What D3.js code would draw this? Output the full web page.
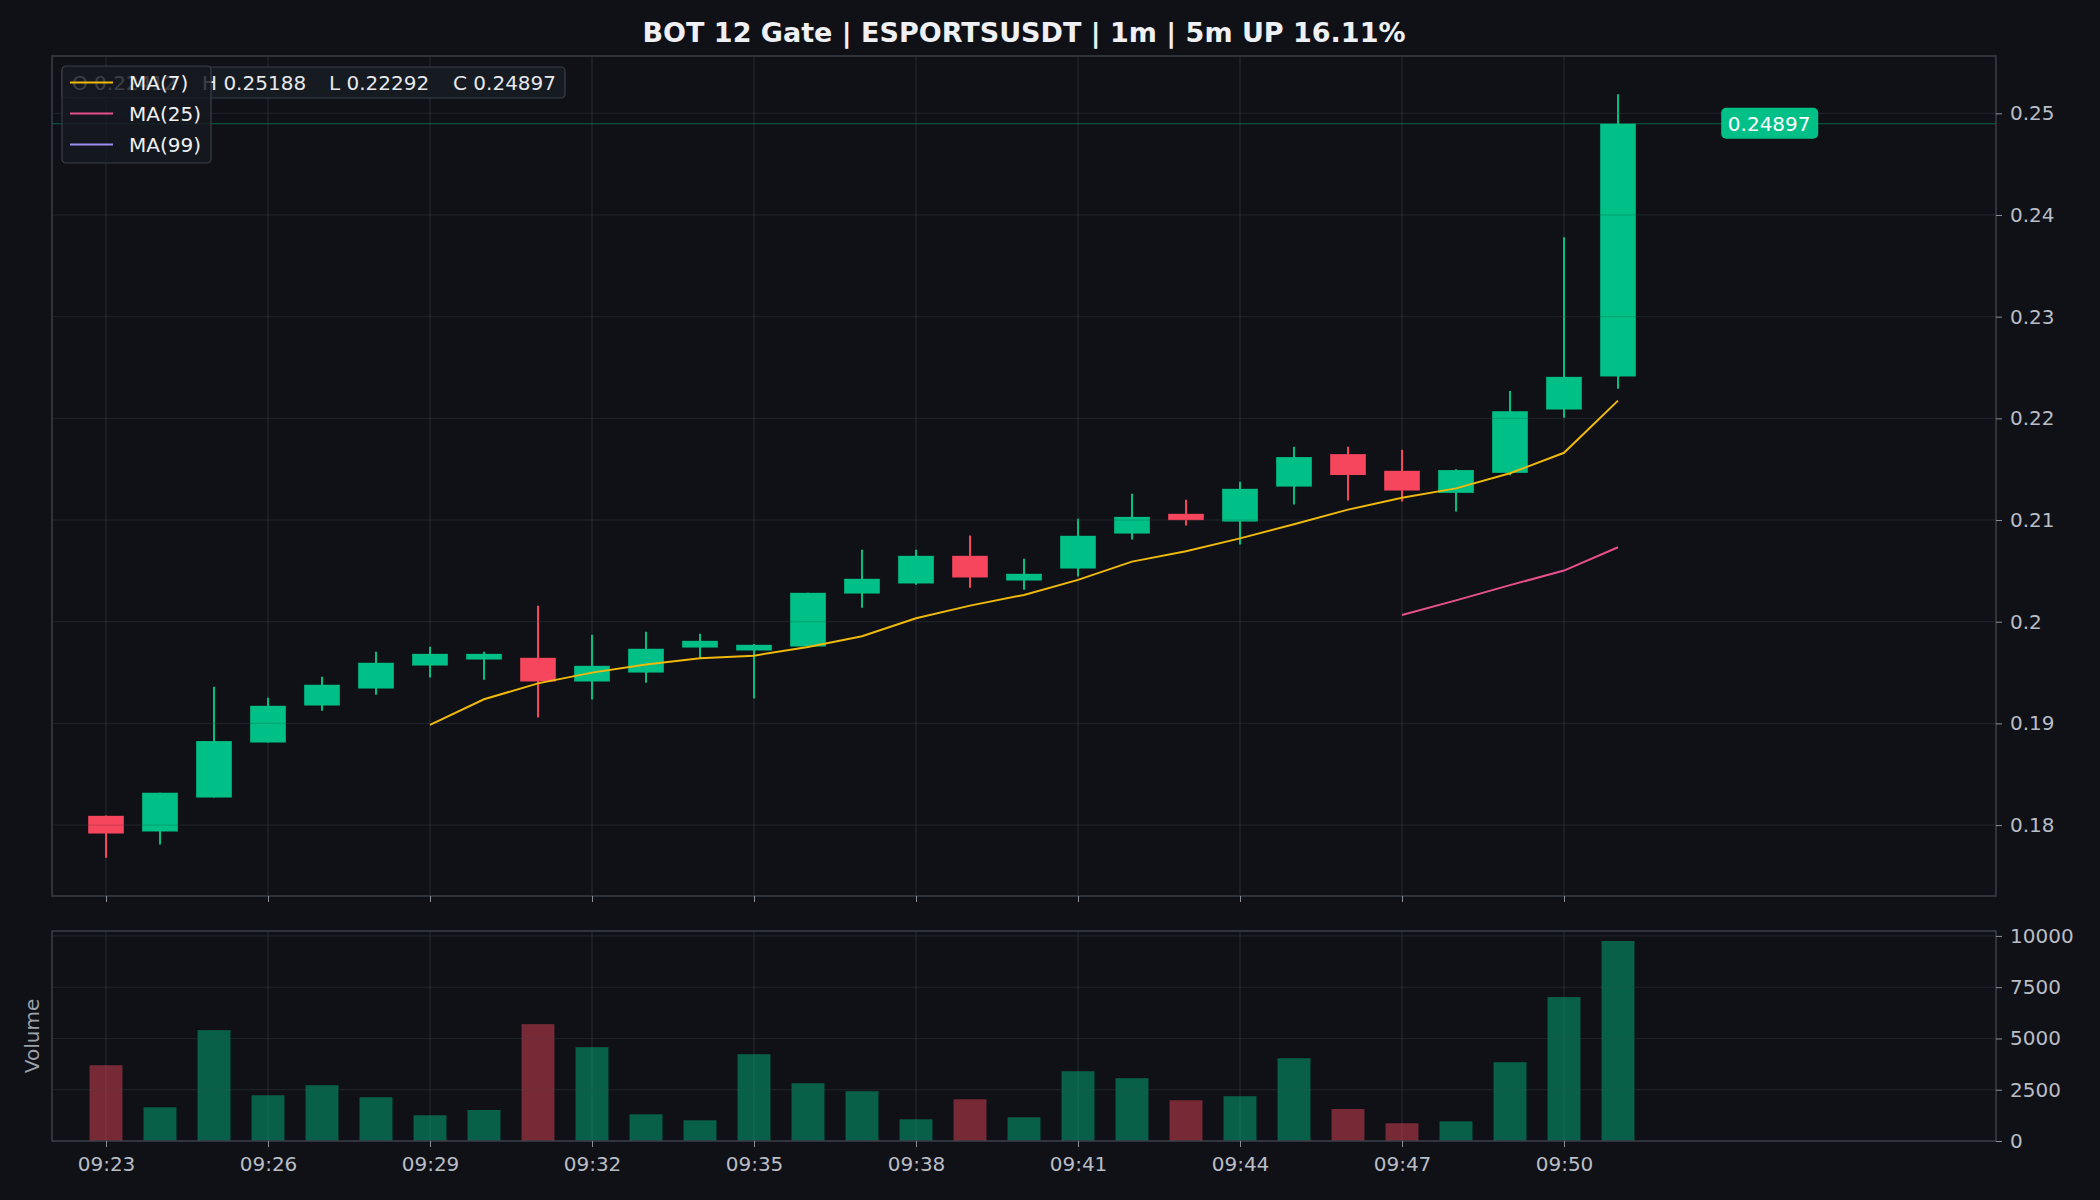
<!DOCTYPE html>
<html>
<head>
<meta charset="utf-8">
<script src="https://cdn.jsdelivr.net/npm/d3@7"></script>
<style>
  html, body { margin: 0; padding: 0; background: #0f1117; }
  svg { display: block; font-family: "DejaVu Sans", sans-serif; }
</style>
</head>
<body>
<script>
// candle data, 1m bars
const times = ["09:23","09:24","09:25","09:26","09:27","09:28","09:29","09:30","09:31","09:32",
  "09:33","09:34","09:35","09:36","09:37","09:38","09:39","09:40","09:41","09:42",
  "09:43","09:44","09:45","09:46","09:47","09:48","09:49","09:50","09:51"]
const open = [0.18091,0.17937,0.18271,0.18812,0.19176,0.19343,0.19569,0.19628,0.19645,0.19412,
  0.19500,0.19746,0.19717,0.19756,0.20277,0.20376,0.20648,0.20405,0.20523,0.20867,
  0.21061,0.20985,0.21329,0.21648,0.21484,0.21267,0.21464,0.22087,0.22412]
const high = [0.18095,0.18318,0.19360,0.19252,0.19458,0.19704,0.19753,0.19704,0.20156,0.19871,
  0.19901,0.19881,0.19782,0.20284,0.20707,0.20707,0.20848,0.20618,0.21012,0.21258,
  0.21199,0.21376,0.21720,0.21720,0.21690,0.21500,0.22268,0.23782,0.25188]
const low = [0.17678,0.17809,0.18271,0.18812,0.19124,0.19281,0.19451,0.19429,0.19058,0.19235,
  0.19399,0.19635,0.19245,0.19756,0.20137,0.20363,0.20333,0.20314,0.20444,0.20808,
  0.20946,0.20759,0.21152,0.21192,0.21182,0.21083,0.21440,0.22005,0.22292]
const close = [0.17917,0.18318,0.18826,0.19173,0.19380,0.19596,0.19684,0.19684,0.19412,0.19566,
  0.19734,0.19812,0.19773,0.20284,0.20422,0.20648,0.20435,0.20471,0.20845,0.21031,
  0.20999,0.21307,0.21619,0.21443,0.21290,0.21491,0.22070,0.22408,0.24897]
const volume = [3695,1644,5405,2230,2719,2133,1254,1514,5698,4575,
  1302,1009,4233,2816,2426,1058,2035,1156,3403,3061,
  1986,2182,4037,1563,863,960,3842,7017,9752]

const priceTicks = [0.18,0.19,0.20,0.21,0.22,0.23,0.24,0.25]
const volTicks = [0,2500,5000,7500,10000]
const xTicks = [0,3,6,9,12,15,18,21,24,27]
const maPeriods = [7,25,99]
const maColors = ["#f0b90b","#e8508c","#9d8df1"]
const title = "BOT 12 Gate | ESPORTSUSDT | 1m | 5m UP 16.11%"

const UP = "#00c087", DOWN = "#f6465d"
const W = 2100, H = 1200
const left = 52, right = 1996
const mainTop = 56, mainBottom = 896
const volTop = 931, volBottom = 1141

const svg = d3.select("body").append("svg").attr("width", W).attr("height", H)
svg.append("rect").attr("width", W).attr("height", H).attr("fill", "#0f1117")

const n = close.length
const bars = d3.range(n).map(i => ({i, t: times[i], o: open[i], h: high[i], l: low[i], c: close[i], v: volume[i]}))

const x = d3.scaleLinear().domain([-1, 35]).range([left, right])
const lo = d3.min(low), hi = d3.max(high), pad = (hi - lo) * 0.05
const y = d3.scaleLinear().domain([lo - pad, hi + pad]).range([mainBottom, mainTop])
const yv = d3.scaleLinear().domain([0, d3.max(volume) * 1.05]).range([volBottom, volTop])

const step = x(1) - x(0)
const gridColor = "rgba(120,126,138,0.22)"
const axisColor = "#8a8f99"
const textColor = "#b9bdc5"

function panel(top, bottom) {
  svg.append("rect").attr("x", left).attr("y", top).attr("width", right - left).attr("height", bottom - top)
    .attr("fill", "#0f1117")
}
panel(mainTop, mainBottom)
panel(volTop, volBottom)

// ---- price panel ----
const gMain = svg.append("g")

// grid
gMain.selectAll("line.hg").data(priceTicks).enter().append("line")
  .attr("x1", left).attr("x2", right).attr("y1", d => y(d)).attr("y2", d => y(d))
  .attr("stroke", gridColor).attr("stroke-width", 1)
gMain.selectAll("line.vg").data(xTicks).enter().append("line")
  .attr("x1", d => x(d)).attr("x2", d => x(d)).attr("y1", mainTop).attr("y2", mainBottom)
  .attr("stroke", gridColor).attr("stroke-width", 1)

// wicks
gMain.selectAll("line.wick").data(bars).enter().append("line")
  .attr("x1", d => x(d.i)).attr("x2", d => x(d.i))
  .attr("y1", d => y(d.h)).attr("y2", d => y(d.l))
  .attr("stroke", d => d.c >= d.o ? UP : DOWN).attr("stroke-width", 2)
// bodies
gMain.selectAll("rect.body").data(bars).enter().append("rect")
  .attr("x", d => x(d.i) - step * 0.33)
  .attr("width", step * 0.66)
  .attr("y", d => y(Math.max(d.o, d.c)))
  .attr("height", d => Math.max(1.5, Math.abs(y(d.o) - y(d.c))))
  .attr("fill", d => d.c >= d.o ? UP : DOWN)
// grid shows faintly over the bodies
gMain.selectAll("line.hg2").data(priceTicks).enter().append("line")
  .attr("x1", left).attr("x2", right).attr("y1", d => y(d)).attr("y2", d => y(d))
  .attr("stroke", "rgba(15,17,23,0.18)").attr("stroke-width", 1)

// moving averages
maPeriods.forEach((p, k) => {
  const pts = []
  for (let i = p - 1; i < n; i++) pts.push([i, d3.mean(close.slice(i - p + 1, i + 1))])
  if (!pts.length) return
  gMain.append("path").datum(pts)
    .attr("d", d3.line().x(d => x(d[0])).y(d => y(d[1])))
    .attr("fill", "none").attr("stroke", maColors[k]).attr("stroke-width", 2)
})

// last price line + label
const last = close[n - 1]
gMain.append("line").attr("x1", left).attr("x2", right).attr("y1", y(last)).attr("y2", y(last))
  .attr("stroke", "rgba(0,192,135,0.45)").attr("stroke-width", 1.2)
const lbl = gMain.append("g").attr("transform", `translate(${x(30.8)},${y(last)})`)
lbl.append("rect").attr("x", -48).attr("y", -16).attr("width", 97).attr("height", 31).attr("rx", 5)
  .attr("fill", UP)
lbl.append("text").attr("text-anchor", "middle").attr("dy", "0.35em")
  .attr("font-size", 20).attr("fill", "#ffffff").text(last.toFixed(5))

// panel borders
svg.append("rect").attr("x", left).attr("y", mainTop).attr("width", right - left).attr("height", mainBottom - mainTop)
  .attr("fill", "none").attr("stroke", "#3a3e47").attr("stroke-width", 1.5)

// right price axis
const ay = svg.append("g").attr("transform", `translate(${right},0)`)
  .call(d3.axisRight(y).tickValues(priceTicks).tickSize(6).tickPadding(8).tickFormat(d => String(+d.toFixed(2))))
ay.select(".domain").remove()
ay.selectAll("line").attr("stroke", axisColor)
ay.selectAll("text").attr("fill", textColor).attr("font-size", 20).attr("font-family", "DejaVu Sans")

// bottom ticks of main panel (no labels)
const axm = svg.append("g").attr("transform", `translate(0,${mainBottom})`)
  .call(d3.axisBottom(x).tickValues(xTicks).tickSize(6).tickFormat(""))
axm.select(".domain").remove()
axm.selectAll("line").attr("stroke", axisColor)

// info box (OHLC of last bar)
const info = svg.append("g").attr("transform", "translate(62,67)")
info.append("rect").attr("width", 503).attr("height", 31).attr("rx", 4)
  .attr("fill", "#161a21").attr("stroke", "#3a3e47").attr("stroke-width", 1.2)
const ohlc = [["O", open[n-1]], ["H", high[n-1]], ["L", low[n-1]], ["C", close[n-1]]]
const ohlcX = [10, 140, 267, 391]
ohlc.forEach((d, k) => {
  info.append("text").attr("x", ohlcX[k]).attr("y", 16).attr("dy", "0.35em")
    .attr("font-size", 20).attr("fill", "#e6e8ec").text(`${d[0]} ${d[1].toFixed(5)}`)
})

// legend
const leg = svg.append("g").attr("transform", "translate(62,66)")
leg.append("rect").attr("width", 149).attr("height", 97).attr("rx", 4)
  .attr("fill", "rgba(22,25,32,0.82)").attr("stroke", "#3a3e47").attr("stroke-width", 1.2)
maPeriods.forEach((p, k) => {
  const yy = 16.5 + k * 31
  leg.append("line").attr("x1", 8).attr("x2", 51).attr("y1", yy).attr("y2", yy)
    .attr("stroke", maColors[k]).attr("stroke-width", 2)
  leg.append("text").attr("x", 67).attr("y", yy).attr("dy", "0.35em")
    .attr("font-size", 20).attr("fill", "#eef0f3").text(`MA(${p})`)
})

// title
svg.append("text").attr("x", (left + right) / 2).attr("y", 33).attr("dy", "0.35em")
  .attr("text-anchor", "middle").attr("font-size", 27).attr("font-weight", "bold")
  .attr("fill", "#eef0f3").text(title)

// ---- volume panel ----
const gVol = svg.append("g")
gVol.selectAll("line.hv").data(volTicks).enter().append("line")
  .attr("x1", left).attr("x2", right).attr("y1", d => yv(d)).attr("y2", d => yv(d))
  .attr("stroke", gridColor).attr("stroke-width", 1)
gVol.selectAll("line.vv").data(xTicks).enter().append("line")
  .attr("x1", d => x(d)).attr("x2", d => x(d)).attr("y1", volTop).attr("y2", volBottom)
  .attr("stroke", gridColor).attr("stroke-width", 1)
gVol.selectAll("rect.vol").data(bars).enter().append("rect")
  .attr("x", d => x(d.i) - step * 0.305)
  .attr("width", step * 0.61)
  .attr("y", d => yv(d.v))
  .attr("height", d => volBottom - yv(d.v))
  .attr("fill", d => d.c >= d.o ? "rgba(0,192,135,0.45)" : "rgba(246,70,93,0.45)")
gVol.selectAll("line.hv2").data(volTicks).enter().append("line")
  .attr("x1", left).attr("x2", right).attr("y1", d => yv(d)).attr("y2", d => yv(d))
  .attr("stroke", "rgba(15,17,23,0.18)").attr("stroke-width", 1)
svg.append("rect").attr("x", left).attr("y", volTop).attr("width", right - left).attr("height", volBottom - volTop)
  .attr("fill", "none").attr("stroke", "#3a3e47").attr("stroke-width", 1.5)

const av = svg.append("g").attr("transform", `translate(${right},0)`)
  .call(d3.axisRight(yv).tickValues(volTicks).tickSize(6).tickPadding(8).tickFormat(d3.format("d")))
av.select(".domain").remove()
av.selectAll("line").attr("stroke", axisColor)
av.selectAll("text").attr("fill", textColor).attr("font-size", 20).attr("font-family", "DejaVu Sans")

const ax = svg.append("g").attr("transform", `translate(0,${volBottom})`)
  .call(d3.axisBottom(x).tickValues(xTicks).tickSize(6).tickPadding(10).tickFormat(i => times[i]))
ax.select(".domain").remove()
ax.selectAll("line").attr("stroke", axisColor)
ax.selectAll("text").attr("fill", textColor).attr("font-size", 20).attr("font-family", "DejaVu Sans")

svg.append("text").attr("transform", `translate(32,${(volTop + volBottom) / 2}) rotate(-90)`)
  .attr("text-anchor", "middle").attr("dy", "0.35em").attr("font-size", 20)
  .attr("fill", "#9ca1aa").text("Volume")
</script>
</body>
</html>
